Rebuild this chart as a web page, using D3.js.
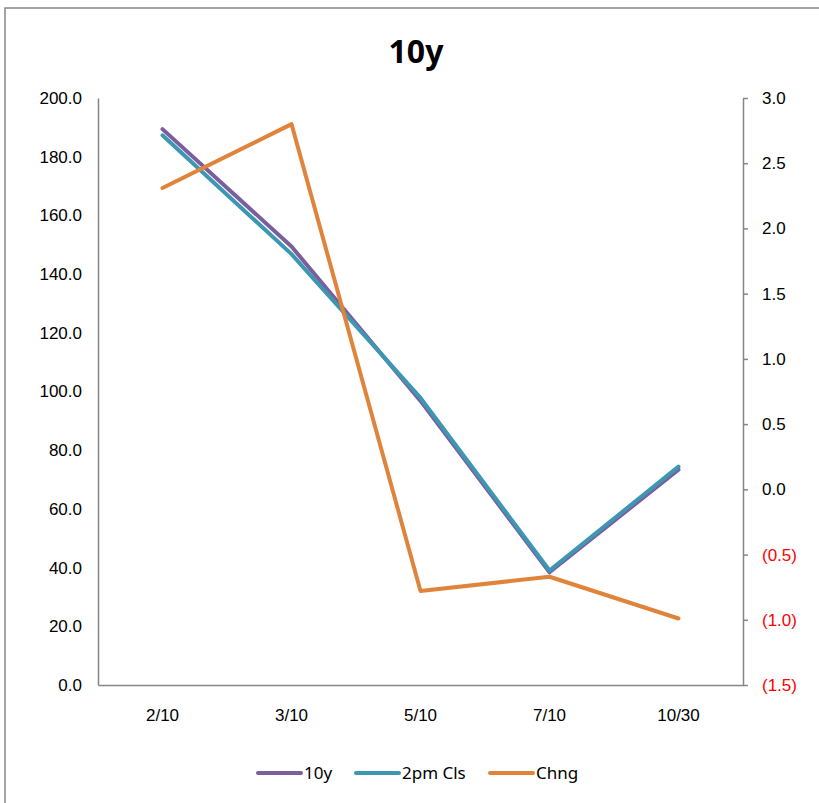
<!DOCTYPE html>
<html>
<head>
<meta charset="utf-8">
<script src="https://cdn.jsdelivr.net/npm/d3@7"></script>
<style>
  body { margin: 0; background: #fff; }
  svg { display: block; font-family: "Noto Sans", "Open Sans", sans-serif; }
</style>
</head>
<body>
<svg id="chart" width="819" height="803"></svg>
<script>
// chart values
var categories = ["2/10", "3/10", "5/10", "7/10", "10/30"];
var tenY     = [189.4, 149.4, 96.8, 38.4, 73.4];
var twoPmCls = [187.3, 146.8, 97.8, 39.0, 74.4];
var chng     = [2.31, 2.80, -0.78, -0.67, -0.99];
var leftTicks  = [0, 20, 40, 60, 80, 100, 120, 140, 160, 180, 200];
var rightTicks = [-1.5, -1.0, -0.5, 0, 0.5, 1.0, 1.5, 2.0, 2.5, 3.0];

var svg = d3.select("#chart");
var margin = {top: 98, right: 76, bottom: 118, left: 98};
var width = 819, height = 803;
var axisColor = "#868686";
var fs = "17px";

// outer frame, runs past the right/bottom edge like the screenshot
svg.append("rect")
  .attr("x", 5).attr("y", 8)
  .attr("width", 830).attr("height", 820)
  .attr("fill", "none")
  .attr("stroke", axisColor)
  .attr("stroke-width", 1.5);

var x = d3.scaleBand()
  .domain(categories)
  .range([margin.left, width - margin.right])
  .padding(0);

var yL = d3.scaleLinear().domain([0, 200]).range([height - margin.bottom, margin.top]);
var yR = d3.scaleLinear().domain([-1.5, 3.0]).range([height - margin.bottom, margin.top]);

function fmtRight(v){
  var s = d3.format(".1f")(Math.abs(v));
  return v < 0 ? "(" + s + ")" : s;
}

svg.append("text")
  .attr("x", 416).attr("y", 63)
  .attr("text-anchor", "middle")
  .style("font-size", "32px")
  .style("font-weight", "bold")
  .text("10y");

// left axis
var gL = svg.append("g")
  .attr("transform", `translate(${margin.left},0)`)
  .call(d3.axisLeft(yL).tickValues(leftTicks).tickSize(0).tickPadding(16).tickFormat(d3.format(".1f")));
gL.select(".domain").attr("stroke", axisColor).attr("stroke-width", 1.5);
gL.selectAll("text").style("font-size", fs).attr("fill", "#000");

// right axis
var gR = svg.append("g")
  .attr("transform", `translate(${width - margin.right},0)`)
  .call(d3.axisRight(yR).tickValues(rightTicks).tickSizeOuter(0).tickSizeInner(5).tickPadding(14).tickFormat(fmtRight));
gR.select(".domain").attr("stroke", axisColor).attr("stroke-width", 1.5);
gR.selectAll(".tick line").attr("stroke", axisColor).attr("stroke-width", 1.5);
gR.selectAll("text")
  .style("font-size", fs)
  .attr("fill", d => d < 0 ? "#ff0000" : "#000");

// bottom axis
var gB = svg.append("g")
  .attr("transform", `translate(0,${height - margin.bottom})`)
  .call(d3.axisBottom(x).tickSize(0).tickPadding(24));
gB.select(".domain").attr("stroke", axisColor).attr("stroke-width", 1.5);
gB.selectAll("text").style("font-size", fs).attr("fill", "#000");

var cx = d => x(d) + x.bandwidth() / 2;

var series = [
  {name: "10y", values: tenY, scale: yL, color: "#7b5e9e"},
  {name: "2pm Cls", values: twoPmCls, scale: yL, color: "#3d97b3"},
  {name: "Chng", values: chng, scale: yR, color: "#e0843c"}
];

series.forEach(function(s){
  var line = d3.line()
    .x((d, i) => cx(categories[i]))
    .y(d => s.scale(d));
  svg.append("path")
    .datum(s.values)
    .attr("fill", "none")
    .attr("stroke", s.color)
    .attr("stroke-width", 4)
    .attr("stroke-linejoin", "round")
    .attr("stroke-linecap", "round")
    .attr("d", line);
});

// legend
var legendX = [258, 356, 490];
var legend = svg.append("g").selectAll("g")
  .data(series)
  .join("g")
  .attr("transform", (d, i) => `translate(${legendX[i]},773)`);
legend.append("line")
  .attr("x1", 0).attr("x2", 43)
  .attr("stroke", d => d.color)
  .attr("stroke-width", 4)
  .attr("stroke-linecap", "round");
legend.append("text")
  .attr("x", 46).attr("dy", "0.35em")
  .style("font-size", fs)
  .text(d => d.name);
</script>
</body>
</html>
